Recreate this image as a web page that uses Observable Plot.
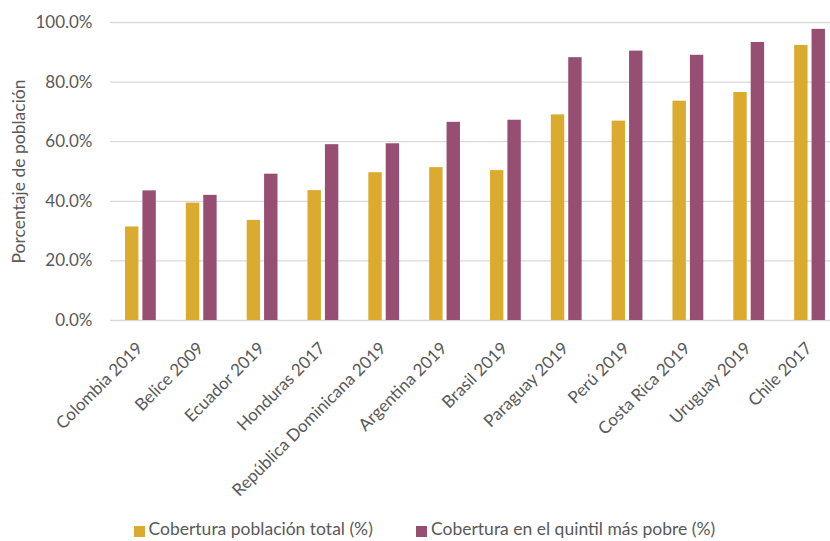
<!DOCTYPE html>
<html>
<head>
<meta charset="utf-8">
<script src="https://cdn.jsdelivr.net/npm/d3@7"></script>
<script src="https://cdn.jsdelivr.net/npm/@observablehq/plot@0.6"></script>
<style>
  body { margin: 0; background: #fff; font-family: Lato, "Open Sans", sans-serif; }
  #chart { width: 830px; position: relative; }
  #chart svg { display: block; overflow: visible; }
  .legend { position: relative; height: 31px; font-size: 17.5px; color: #595959; }
  .legend .item { position: absolute; top: 9px; display: flex; align-items: center; line-height: 20px; white-space: nowrap; }
  .legend .swatch { width: 11px; height: 11px; margin-right: 4px; position: relative; top: 2px; }
</style>
</head>
<body>
<div id="chart"></div>
<script>
// Countries (with survey year) shown along the x axis
const countries = [
  "Colombia 2019", "Belice 2009", "Ecuador 2019", "Honduras 2017",
  "República Dominicana 2019", "Argentina 2019", "Brasil 2019", "Paraguay 2019",
  "Perú 2019", "Costa Rica 2019", "Uruguay 2019", "Chile 2017"
];
// Coverage of the whole population (%)
const coberturaTotal = [31.4, 39.4, 33.6, 43.6, 49.6, 51.3, 50.3, 69.0, 66.9, 73.6, 76.5, 92.3];
// Coverage in the poorest quintile (%)
const coberturaQuintil = [43.5, 42.0, 49.1, 59.0, 59.3, 66.5, 67.2, 88.2, 90.4, 89.0, 93.3, 97.7];
// Series names and colours
const series = ["Cobertura población total (%)", "Cobertura en el quintil más pobre (%)"];
const colors = ["#DAAB2E", "#964F72"];
// Y axis ticks
const yTicks = [0, 20, 40, 60, 80, 100];

const rows = countries.map((c, i) => ({ pais: c, total: coberturaTotal[i], quintil: coberturaQuintil[i] }));

const textColor = "#595959";
const fontFamily = "Lato, 'Open Sans', sans-serif";
const barW = 13.4;   // width of a single bar
const gap = 4;       // space between the two bars of a group
const groupW = 2 * barW + gap;
const step = 60.83;  // distance between group centres

const plot = Plot.plot({
  width: 830,
  height: 510,
  marginLeft: 110,
  marginRight: 0,
  marginTop: 22,
  marginBottom: 190,
  style: { fontFamily, color: textColor, background: "#fff" },
  x: {
    domain: countries,
    range: [110, 110 + 12 * step],
    round: false,
    paddingInner: 1 - groupW / step,
    paddingOuter: (1 - groupW / step) / 2,
    label: null
  },
  y: { domain: [0, 100], label: null },
  marks: [
    Plot.gridY(yTicks, { stroke: "#D9D9D9", strokeOpacity: 1, strokeWidth: 1.3 }),
    Plot.barY(rows, { x: "pais", y: "total", fill: colors[0], insetRight: barW + gap }),
    Plot.barY(rows, { x: "pais", y: "quintil", fill: colors[1], insetLeft: barW + gap }),
    Plot.axisY({
      ticks: yTicks,
      tickSize: 0,
      tickPadding: 18,
      tickFormat: d => d.toFixed(1) + "%",
      fontSize: 17,
      label: null
    }),
    Plot.axisX({
      tickSize: 0,
      tickPadding: 25,
      dx: -1,
      tickRotate: -45,
      fontSize: 17,
      label: null
    }),
    Plot.text(["Porcentaje de población"], {
      frameAnchor: "left",
      textAnchor: "middle",
      dx: -91,
      rotate: -90,
      fontSize: 17.5,
      fill: textColor
    })
  ]
});

const chart = document.getElementById("chart");
chart.appendChild(plot);

// Legend below the plot
const legend = document.createElement("div");
legend.className = "legend";
const positions = [133.5, 416];
series.forEach((name, i) => {
  const item = document.createElement("div");
  item.className = "item";
  item.style.left = positions[i] + "px";
  const sw = document.createElement("span");
  sw.className = "swatch";
  sw.style.background = colors[i];
  const label = document.createElement("span");
  label.textContent = name;
  item.appendChild(sw);
  item.appendChild(label);
  legend.appendChild(item);
});
chart.appendChild(legend);
</script>
</body>
</html>
